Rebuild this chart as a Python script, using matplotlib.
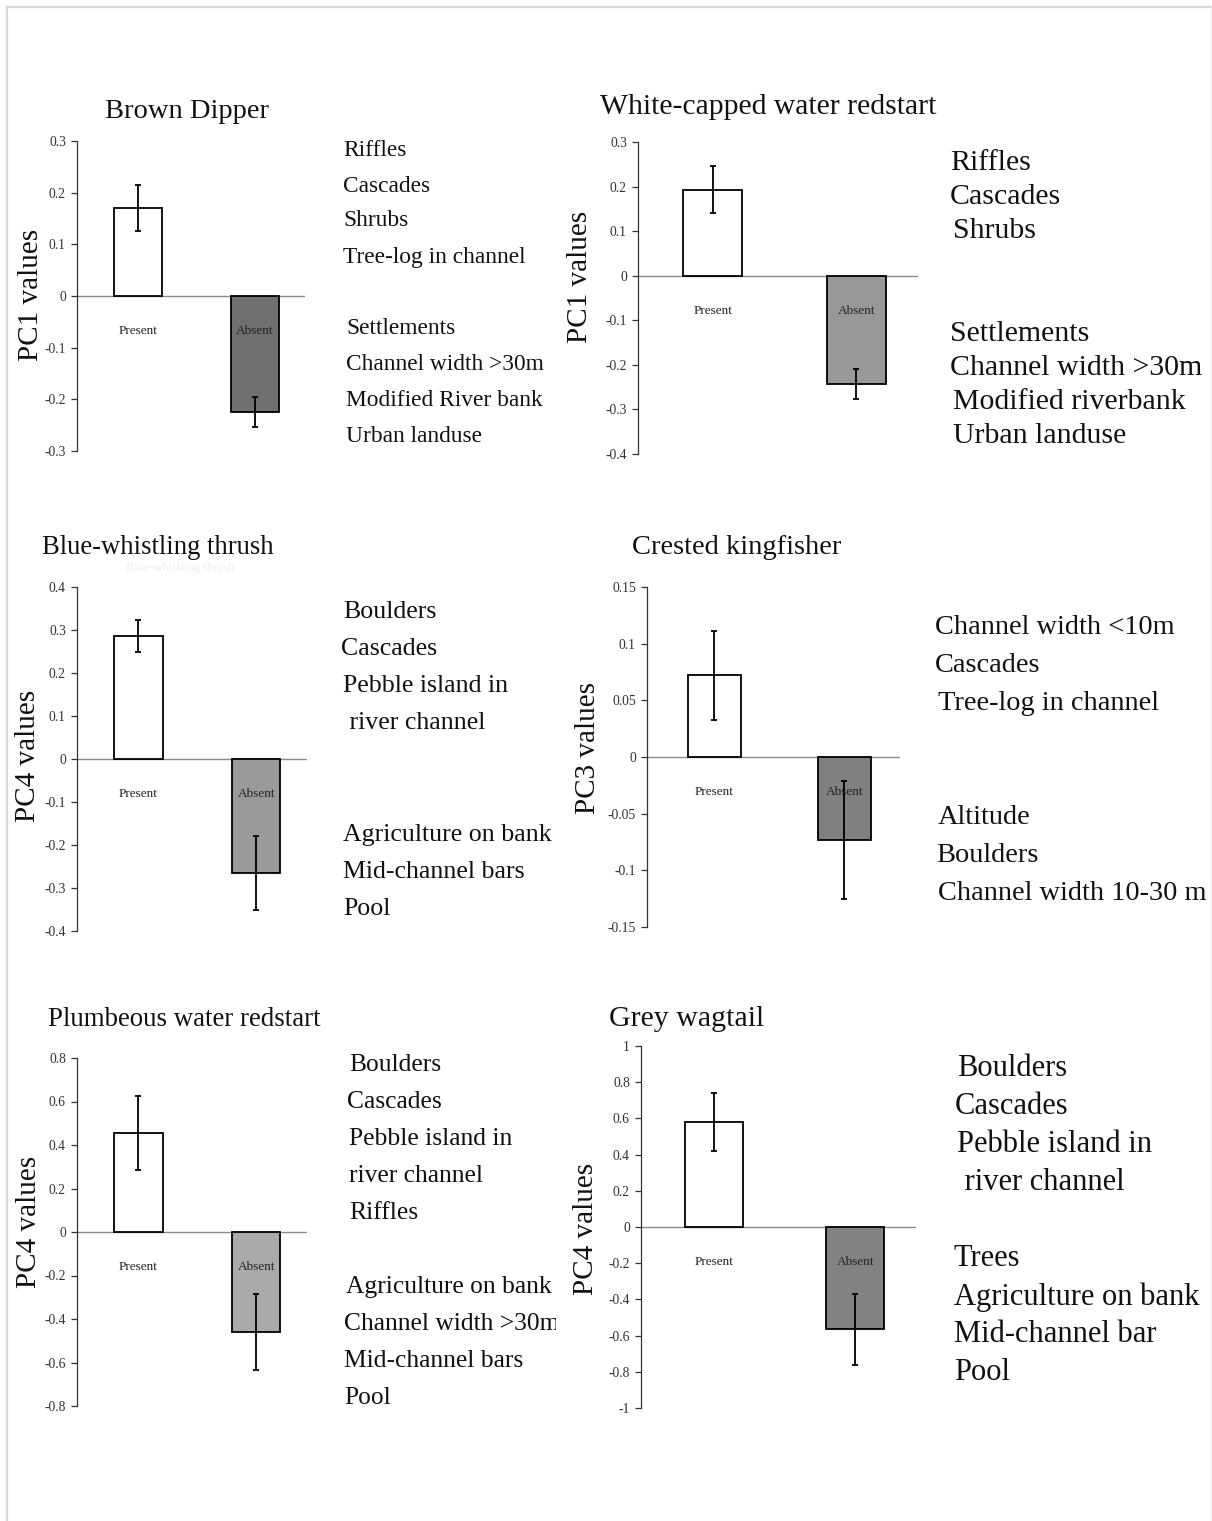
"""Mean PC scores of sites where each river bird was present or absent."""

import matplotlib
matplotlib.use('Agg')
import matplotlib.pyplot as plt
from matplotlib.lines import Line2D
from matplotlib.transforms import Bbox, TransformedBbox
import numpy as np


# Data ---------------------------------------------------------------------

species = ['Brown Dipper', 'White-capped water redstart',
           'Blue-whistling thrush', 'Crested kingfisher',
           'Plumbeous water redstart', 'Grey wagtail']
pc_labels = ['PC1 values', 'PC1 values', 'PC4 values',
             'PC3 values', 'PC4 values', 'PC4 values']
groups = ['Present', 'Absent']

present_mean = [0.170, 0.193, 0.286, 0.072, 0.455, 0.580]
present_err = [0.044, 0.053, 0.037, 0.039, 0.171, 0.160]
absent_mean = [-0.224, -0.243, -0.266, -0.073, -0.460, -0.565]
absent_err = [0.029, 0.033, 0.086, 0.052, 0.175, 0.195]

y_ranges = [(-0.3, 0.3), (-0.4, 0.3), (-0.4, 0.4),
            (-0.15, 0.15), (-0.8, 0.8), (-1.0, 1.0)]
y_steps = [0.1, 0.1, 0.1, 0.05, 0.2, 0.2]

habitat_notes = [
    ['Riffles', 'Cascades', 'Shrubs', 'Tree-log in channel',
     'Settlements', 'Channel width >30m', 'Modified River bank',
     'Urban landuse'],
    ['Riffles', 'Cascades', 'Shrubs',
     'Settlements', 'Channel width >30m', 'Modified riverbank',
     'Urban landuse'],
    ['Boulders', 'Cascades', 'Pebble island in', ' river channel',
     'Agriculture on bank', 'Mid-channel bars', 'Pool'],
    ['Channel width <10m', 'Cascades', 'Tree-log in channel',
     'Altitude', 'Boulders', 'Channel width 10-30 m'],
    ['Boulders', 'Cascades', 'Pebble island in', 'river channel', 'Riffles',
     'Agriculture on bank', 'Channel width >30m', 'Mid-channel bars', 'Pool'],
    ['Boulders', 'Cascades', 'Pebble island in', ' river channel',
     'Trees', 'Agriculture on bank', 'Mid-channel bar', 'Pool'],
]

# Layout (pixels on a 1212 x 1521 canvas) -----------------------------------

W, H = 1212, 1521
axes_px = [(77, 305, 141, 451), (638, 918, 142, 454), (77, 307, 587, 931),
           (647, 900, 587, 927), (77, 307, 1058, 1406), (641, 916, 1046, 1408)]
title_px = [(187, 111), (768, 107), (158, 547),
            (737, 548), (184, 1020), (687, 1019)]
title_size = [20.5, 21.3, 19.2, 20.5, 19.4, 21.5]
ylabel_px = [(31, 295), (580, 277), (28, 756),
             (588, 748), (29, 1222), (586, 1229)]
absent_colors = ['#707070', '#989898', '#9a9a9a', '#808080', '#aaaaaa', '#828282']

note_x = [[343, 343, 343, 343, 346, 346, 346, 346],
          [950, 950, 953, 950, 950, 953, 953],
          [343, 341, 343, 343, 343, 343, 343],
          [935, 935, 938, 938, 936, 938],
          [349, 347, 349, 349, 349, 346, 344, 344, 344],
          [957, 955, 957, 957, 954, 954, 954, 954]]
note_y = [[147, 183, 218, 254, 326, 361, 397, 433],
          [160, 194, 228, 331, 365, 399, 433],
          [609, 646, 683, 720, 832, 869, 906],
          [624, 662, 700, 814, 852, 890],
          [1062, 1099, 1136, 1173, 1210, 1284, 1321, 1358, 1395],
          [1066, 1104, 1142, 1180, 1256, 1294, 1332, 1370]]
note_size = [16.8, 21.5, 18.6, 20.4, 18.4, 22.0]
note_clip_right = [W, W, W, W, 556, W]

SERIF = 'Liberation Serif'
plt.rcParams['font.family'] = SERIF


def fx(px):
    return px / W


def fy(py):
    return 1 - py / H


fig = plt.figure(figsize=(W / 100, H / 100), dpi=100)
fig.patch.set_facecolor('white')

# thin grey frame along the left and top edges
fig.add_artist(Line2D([fx(7), fx(7)], [fy(7), 0], color='#d9d9d9', lw=1.6))
fig.add_artist(Line2D([fx(7), 1], [fy(7), fy(7)], color='#d9d9d9', lw=1.6))
fig.add_artist(Line2D([fx(1211), fx(1211)], [fy(7), 0], color='#f0f0f0', lw=1))

x = np.arange(len(groups))

for i in range(len(species)):
    left, right, top, bottom = axes_px[i]
    ax = fig.add_axes([fx(left), fy(bottom), fx(right - left),
                       (bottom - top) / H])

    means = [present_mean[i], absent_mean[i]]
    errs = [present_err[i], absent_err[i]]
    ax.bar(x, means, width=0.41, color=['white', absent_colors[i]],
           edgecolor='black', linewidth=1.3, zorder=2)
    ax.errorbar(x, means, yerr=errs, fmt='none', ecolor='black',
                elinewidth=1.3, capsize=2, capthick=1.3, zorder=3)
    ax.axhline(0, color='#8c8c8c', lw=1, zorder=1)

    lo, hi = y_ranges[i]
    ax.set_ylim(lo, hi)
    ax.set_xlim(-0.52, 1.43)
    ticks = np.round(np.arange(lo, hi + y_steps[i] / 2, y_steps[i]), 2) + 0.0
    ax.set_yticks(ticks)
    ax.set_yticklabels(['0' if abs(t) < 1e-9 else f'{t:g}' for t in ticks],
                       fontsize=9.8, color='#333333')
    ax.tick_params(axis='y', direction='out', length=4, width=0.9,
                   color='#333333', pad=4)
    ax.set_xticks([])
    for side in ['top', 'right', 'bottom']:
        ax.spines[side].set_visible(False)
    ax.spines['left'].set_color('#333333')
    ax.spines['left'].set_linewidth(0.9)
    ax.patch.set_alpha(0)

    for xi, name in zip(x, groups):
        ax.annotate(name, (xi, 0), xytext=(0, -25.5), textcoords='offset points',
                    ha='center', va='center', fontsize=9.5, color='#222222')

    tx, ty = title_px[i]
    fig.text(fx(tx), fy(ty), species[i], ha='center', va='center',
             fontsize=title_size[i], color='#111111')
    lx, ly = ylabel_px[i]
    fig.text(fx(lx), fy(ly), pc_labels[i], ha='center', va='center',
             rotation=90, fontsize=21, color='#111111')

    clip = TransformedBbox(
        Bbox.from_extents(0, 0, fx(note_clip_right[i]), 1), fig.transFigure)
    for line, nx, ny in zip(habitat_notes[i], note_x[i], note_y[i]):
        t = fig.text(fx(nx), fy(ny + 3), line, ha='left', va='center',
                     fontsize=note_size[i], color='#111111')
        t.set_clip_box(clip)
        t.set_clip_on(True)

# faint duplicate caption left behind under one heading
fig.text(fx(180), fy(568), species[2], ha='center', va='center',
         fontsize=9, color='#ededed')

fig.savefig('out.png', dpi=100, facecolor='white')
